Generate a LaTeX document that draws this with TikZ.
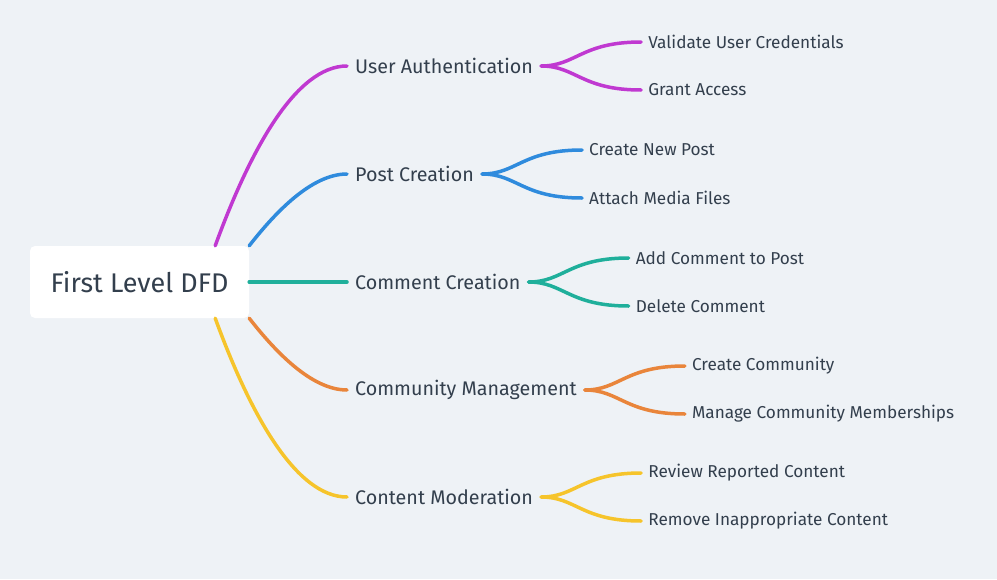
\documentclass[tikz,border=0pt]{standalone}
\usepackage{fontspec}
\setmainfont{Fira Sans}
\usetikzlibrary{calc}

\definecolor{bgcol}{HTML}{EEF2F6}
\definecolor{txtcol}{HTML}{333F4D}
\definecolor{authcol}{HTML}{C039D1}
\definecolor{postcol}{HTML}{2F8BDD}
\definecolor{commcol}{HTML}{1FAF9B}
\definecolor{mgmtcol}{HTML}{E9853B}
\definecolor{modcol}{HTML}{F6C42B}

\tikzset{
  rootbox/.style={fill=white, rounded corners=5pt, minimum width=219pt, minimum height=72pt,
    inner sep=0pt, text=txtcol, font=\fontsize{27}{31}\selectfont},
  branch/.style={anchor=west, inner xsep=8pt, inner ysep=2pt, text=txtcol,
    font=\fontsize{19.7}{23}\selectfont},
  leaf/.style={anchor=west, inner xsep=7pt, inner ysep=2pt, text=txtcol,
    font=\fontsize{17.2}{20}\selectfont},
  edge/.style={line width=3.5pt, line cap=round}
}

\begin{document}
\begin{tikzpicture}[x=1pt,y=-1pt]
    \fill [bgcol] (0,0) rectangle (997,579);
    \useasboundingbox (0,0) rectangle (997,579);
    % root
    \node [rootbox] (root) at (139.5,282) {First Level DFD};
    % branches
    \node [branch] (auth) at (347,66) {User Authentication};
    \node [branch] (post) at (347,174) {Post Creation};
    \node [branch] (comm) at (347,282) {Comment Creation};
    \node [branch] (mgmt) at (347,390) {Community Management};
    \node [branch] (mod) at (347,497) {Content Moderation};
    % leaves
    \node [leaf] (valid) at ($(auth.east)+(100,-24)$) {Validate User Credentials};
    \node [leaf] (grant) at ($(auth.east)+(100,24)$) {Grant Access};
    \node [leaf] (newpost) at ($(post.east)+(100,-24)$) {Create New Post};
    \node [leaf] (media) at ($(post.east)+(100,24)$) {Attach Media Files};
    \node [leaf] (addcomm) at ($(comm.east)+(100,-24)$) {Add Comment to Post};
    \node [leaf] (delcomm) at ($(comm.east)+(100,24)$) {Delete Comment};
    \node [leaf] (newcom) at ($(mgmt.east)+(100,-24)$) {Create Community};
    \node [leaf] (members) at ($(mgmt.east)+(100,24)$) {Manage Community Memberships};
    \node [leaf] (review) at ($(mod.east)+(100,-24)$) {Review Reported Content};
    \node [leaf] (remove) at ($(mod.east)+(100,24)$) {Remove Inappropriate Content};
    % root to branches
    \draw [edge,authcol] ([xshift=-34pt]root.north east) .. controls +(35,-96) and +(-51,0) .. (auth.west);
    \draw [edge,postcol] (root.north east) .. controls +(25,-32) and +(-36,0) .. (post.west);
    \draw [edge,commcol] (root.east) -- (comm.west);
    \draw [edge,mgmtcol] (root.south east) .. controls +(25,32) and +(-36,0) .. (mgmt.west);
    \draw [edge,modcol] ([xshift=-34pt]root.south east) .. controls +(35,96) and +(-51,0) .. (mod.west);
    % branches to leaves
    \foreach \src/\dst/\col in {auth/valid/authcol, auth/grant/authcol, post/newpost/postcol,
        post/media/postcol, comm/addcomm/commcol, comm/delcomm/commcol, mgmt/newcom/mgmtcol,
        mgmt/members/mgmtcol, mod/review/modcol, mod/remove/modcol}
        \draw [edge,\col] (\src.east) .. controls +(35,0) and +(-60,0) .. (\dst.west);
\end{tikzpicture}
\end{document}
